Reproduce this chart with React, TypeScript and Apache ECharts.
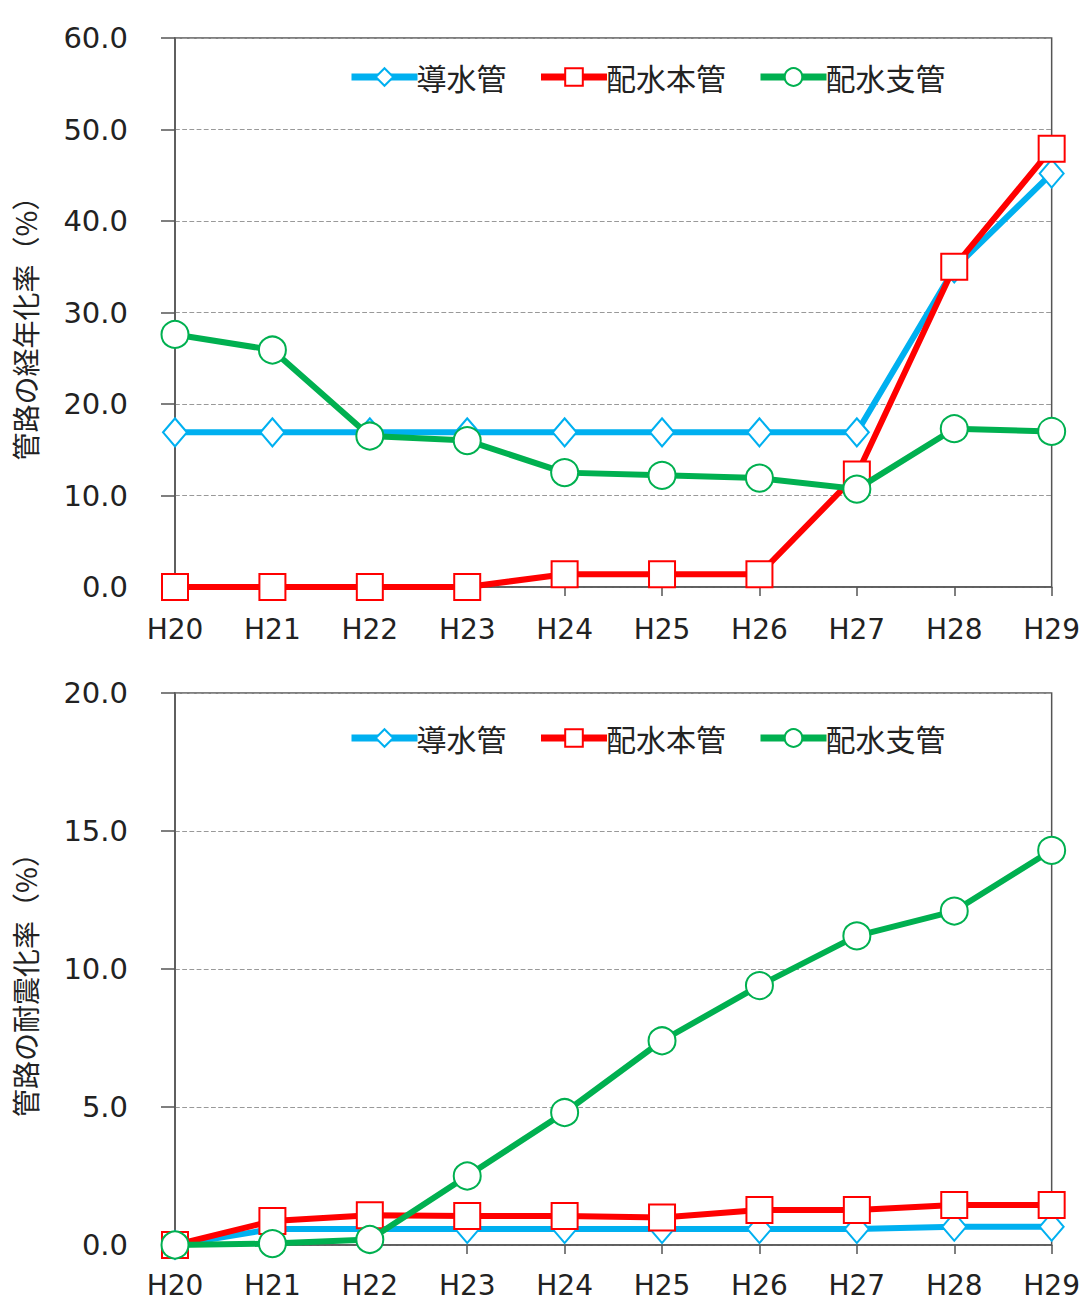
import React, { useEffect, useRef } from "react";
import * as echarts from "echarts";

const categories = ["H20", "H21", "H22", "H23", "H24", "H25", "H26", "H27", "H28", "H29"];
const seriesNames = ["導水管", "配水本管", "配水支管"];

// 経年化率 (%)
const agingConduit = [16.9, 16.9, 16.9, 16.9, 16.9, 16.9, 16.9, 16.9, 34.8, 45.2];
const agingMain = [0.0, 0.0, 0.0, 0.0, 1.4, 1.4, 1.4, 12.3, 35.0, 47.9];
const agingBranch = [27.6, 25.9, 16.5, 16.0, 12.5, 12.2, 11.9, 10.7, 17.3, 17.0];

// 耐震化率 (%)
const quakeConduit = [0.0, 0.58, 0.58, 0.58, 0.58, 0.58, 0.58, 0.58, 0.66, 0.66];
const quakeMain = [0.0, 0.87, 1.08, 1.05, 1.05, 1.0, 1.27, 1.27, 1.45, 1.45];
const quakeBranch = [0.0, 0.05, 0.2, 2.5, 4.8, 7.4, 9.4, 11.2, 12.1, 14.3];

const topTicks = { min: 0, max: 60, interval: 10 };
const bottomTicks = { min: 0, max: 20, interval: 5 };

const colors = ["#00B0F0", "#FF0000", "#00B050"];
const symbols = ["diamond", "rect", "circle"];
const symbolSizes: any[] = [[24, 28], 26, 27];

const numFont = "'DejaVu Sans', Verdana, sans-serif";
const jpFont = "'Noto Sans CJK JP', sans-serif";

export default function App() {
  const ref = useRef<HTMLDivElement>(null);
  useEffect(() => {
    document.body.style.margin = "0";
    const chart = echarts.init(ref.current!, null, { renderer: "svg" });

    const grids = [
      { left: 175, right: 28, top: 38, height: 549, show: true, borderColor: "#555", borderWidth: 1.5 },
      { left: 175, right: 28, top: 693, height: 552, show: true, borderColor: "#555", borderWidth: 1.5 },
    ];

    const xAxis = [0, 1].map((i) => ({
      type: "category",
      gridIndex: i,
      data: categories,
      boundaryGap: false,
      axisLine: { lineStyle: { color: "#555", width: 1.5 } },
      axisTick: { show: true, length: 9, alignWithLabel: true, lineStyle: { color: "#555", width: 1.5 } },
      axisLabel: { fontSize: 28, color: "#222", margin: i === 0 ? 28 : 26, fontFamily: numFont },
      splitLine: { show: false },
    }));

    const yNames = ["管路の経年化率（%）", "管路の耐震化率（%）"];
    const ticks = [topTicks, bottomTicks];
    const yAxis = [0, 1].map((i) => ({
      type: "value",
      gridIndex: i,
      min: ticks[i].min,
      max: ticks[i].max,
      interval: ticks[i].interval,
      name: yNames[i],
      nameLocation: "middle",
      nameGap: 136,
      nameRotate: 90,
      nameTextStyle: { fontSize: 28, color: "#222", fontFamily: jpFont, padding: [0, 0, 0, -18] },
      axisLine: { show: true, lineStyle: { color: "#555", width: 1.5 } },
      axisTick: { show: true, length: 14, inside: false, lineStyle: { color: "#555", width: 1.5 } },
      axisLabel: {
        fontSize: 29,
        color: "#222",
        margin: 47,
        fontFamily: numFont,
        formatter: (v: number) => v.toFixed(1),
      },
      splitLine: { show: true, lineStyle: { color: "#999", type: "dashed", width: 1.2 } },
    }));

    const datasets = [
      [agingConduit, agingMain, agingBranch],
      [quakeConduit, quakeMain, quakeBranch],
    ];

    const series: any[] = [];
    for (let g = 0; g < 2; g++) {
      for (let s = 0; s < 3; s++) {
        series.push({
          name: seriesNames[s],
          type: "line",
          xAxisIndex: g,
          yAxisIndex: g,
          data: datasets[g][s],
          symbol: symbols[s],
          symbolSize: symbolSizes[s],
          showAllSymbol: true,
          lineStyle: { color: colors[s], width: 6 },
          itemStyle: { color: "#fff", borderColor: colors[s], borderWidth: 2 },
          z: 2 + s,
        });
      }
    }

    const legendBase = {
      data: seriesNames,
      left: 343,
      itemWidth: 66,
      itemHeight: 22,
      itemGap: 31,
      lineStyle: { width: 7 },
      textStyle: { fontSize: 30, color: "#222", fontFamily: jpFont, padding: [0, 0, 0, -6] },
    };

    chart.setOption({
      animation: false,
      backgroundColor: "#fff",
      grid: grids,
      xAxis,
      yAxis,
      legend: [
        { ...legendBase, top: 57 },
        { ...legendBase, top: 718 },
      ],
      series,
    });

    return () => chart.dispose();
  }, []);

  return <div ref={ref} style={{ width: 1083, height: 1302, position: "absolute", left: 0, top: 0 }} />;
}
